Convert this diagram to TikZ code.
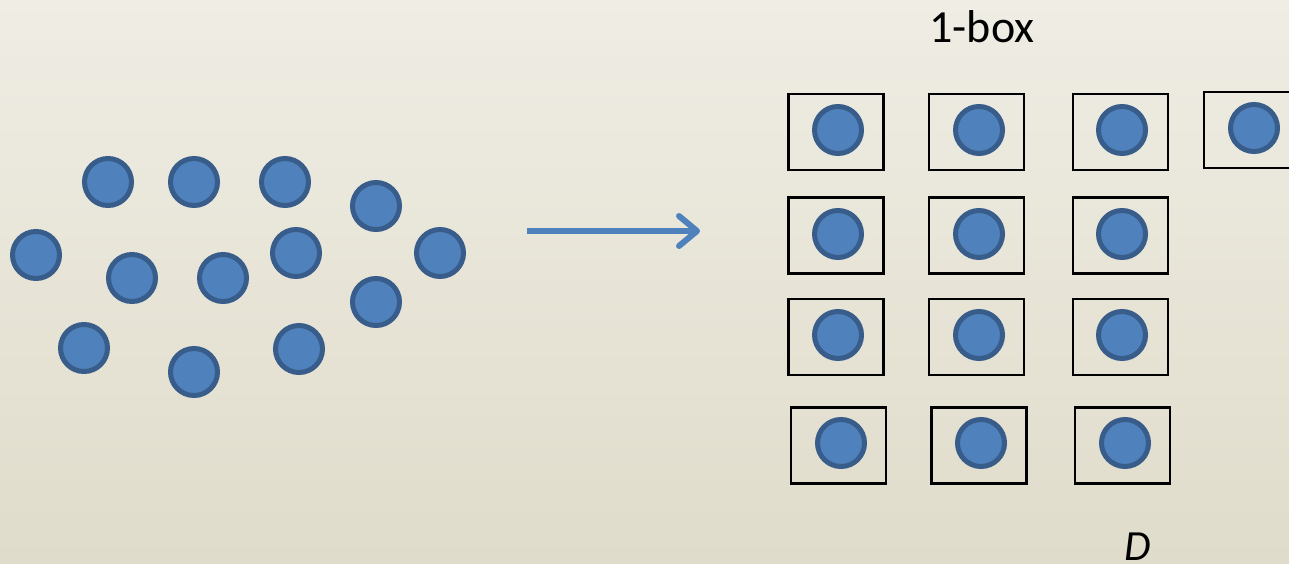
\documentclass[tikz,border=0pt]{standalone}
\usepackage{fontspec}
\setmainfont{Carlito}
\usetikzlibrary{arrows.meta}
\definecolor{bgtop}{RGB}{239,237,228}
\definecolor{bgbot}{RGB}{224,220,203}
\definecolor{ballfill}{RGB}{79,129,189}
\definecolor{ballline}{RGB}{56,93,138}
\tikzset{
  ball/.style={circle, fill=ballfill, draw=ballline, line width=5pt, minimum size=47pt, inner sep=0pt},
  cell/.style={rectangle, draw=black, line width=2.6pt, minimum width=95pt, minimum height=76pt, inner sep=0pt},
  lbl/.style={font=\fontsize{46pt}{50pt}\selectfont, inner sep=0pt, anchor=base},
}
\begin{document}
\begin{tikzpicture}[x=1pt,y=-1pt]
\shade[top color=bgtop, bottom color=bgbot] (0,0) rectangle (1289,563);
\useasboundingbox (0,0) rectangle (1289,563);
% scattered balls
\node[ball] (s1) at (108,182) {};
\node[ball] (s2) at (194,182) {};
\node[ball] (s3) at (285,182) {};
\node[ball] (s4) at (376,206) {};
\node[ball] (s5) at (36,255) {};
\node[ball] (s6) at (132,278) {};
\node[ball] (s7) at (223,278) {};
\node[ball] (s8) at (296,253) {};
\node[ball] (s9) at (440,253) {};
\node[ball] (s10) at (376,302) {};
\node[ball] (s11) at (84,348) {};
\node[ball] (s12) at (194,372) {};
\node[ball] (s13) at (299,349) {};
% arrow
\coordinate (a1) at (527,231);
\coordinate (a2) at (700,231);
\draw[ballfill, line width=6pt, -{Straight Barb[length=18pt,width=30pt,round]}] (a1) -- (a2);
% boxes row 1
\node[cell] (b11) at (836,132) {};
\node[cell] (b12) at (976.5,132) {};
\node[cell] (b13) at (1120.5,132) {};
\node[cell] (b14) at (1251.5,130) {};
\node[ball] (c11) at (838,130) {};
\node[ball] (c12) at (979,130) {};
\node[ball] (c13) at (1122,130) {};
\node[ball] (c14) at (1254,128) {};
% row 2
\node[cell] (b21) at (836,235.5) {};
\node[cell] (b22) at (976.5,235.5) {};
\node[cell] (b23) at (1120.5,235.5) {};
\node[ball] (c21) at (838,234) {};
\node[ball] (c22) at (979,234) {};
\node[ball] (c23) at (1122,234) {};
% row 3
\node[cell] (b31) at (836,337) {};
\node[cell] (b32) at (976.5,337) {};
\node[cell] (b33) at (1120.5,337) {};
\node[ball] (c31) at (838,335) {};
\node[ball] (c32) at (979,335) {};
\node[ball] (c33) at (1122,335) {};
% row 4
\node[cell] (b41) at (838.5,445.5) {};
\node[cell] (b42) at (979,445.5) {};
\node[cell] (b43) at (1122.5,445.5) {};
\node[ball] (c41) at (841,443) {};
\node[ball] (c42) at (981,443) {};
\node[ball] (c43) at (1125,443) {};
% labels
\node[lbl] (t1) at (982,42) {1-box};
\node[lbl, font=\fontsize{43pt}{48pt}\selectfont\itshape] (t2) at (1138,560) {D};
\end{tikzpicture}
\end{document}
